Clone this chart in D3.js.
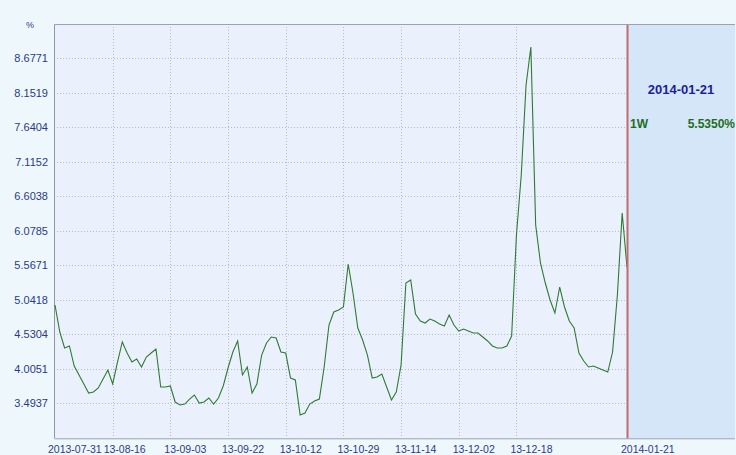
<!DOCTYPE html>
<html><head><meta charset="utf-8">
<script src="https://cdn.jsdelivr.net/npm/d3@7"></script>
<style>
html,body{margin:0;padding:0;background:#eef8fc;}
svg{display:block;}
</style></head>
<body>
<svg id="chart" width="736" height="455"></svg>
<script>
// ---- data ----
const xTickIndex = [0, 12, 24, 36, 48, 60, 72, 84, 96, 119];
const xTickLabels = ["2013-07-31","13-08-16","13-09-03","13-09-22","13-10-12","13-10-29","13-11-14","13-12-02","13-12-18","2014-01-21"];
const yTickValues = [3.4937, 4.0051, 4.5304, 5.0418, 5.5671, 6.0785, 6.6038, 7.1152, 7.6404, 8.1519, 8.6771];
const rates = [
 4.971,4.565,4.325,4.355,4.054,3.919,3.784,3.648,3.663,3.724,
 3.859,3.994,3.784,4.114,4.415,4.249,4.114,4.159,4.039,4.189,
 4.249,4.310,3.739,3.739,3.754,3.513,3.468,3.483,3.558,3.618,
 3.498,3.513,3.573,3.483,3.573,3.754,4.024,4.264,4.430,3.919,
 4.039,3.648,3.784,4.219,4.400,4.490,4.475,4.264,4.249,3.874,
 3.844,3.318,3.348,3.483,3.528,3.558,4.039,4.670,4.865,4.895,
 4.941,5.587,5.151,4.625,4.445,4.219,3.874,3.889,3.934,3.739,
 3.543,3.663,4.069,5.301,5.346,4.835,4.730,4.700,4.760,4.730,
 4.685,4.655,4.820,4.670,4.580,4.610,4.580,4.550,4.550,4.490,
 4.430,4.355,4.325,4.325,4.355,4.505,6.022,6.924,8.276,8.847,
 6.173,5.602,5.301,5.046,4.850,5.241,4.941,4.730,4.625,4.249,
 4.129,4.039,4.054,4.024,3.994,3.964,4.264,5.121,6.353,5.535
];
const lastDate = "2014-01-21";
const lastTerm = "1W";
const lastValue = "5.5350%";
const unitLabel = "%";

// ---- layout ----
const svg = d3.select("#chart");
const L = 55, T = 25, B = 438.3, R = 735, dataR = 627;

const x = d3.scaleLinear().domain([0, rates.length - 1]).range([L, dataR]);
const y = d3.scaleLinear().domain([2.968, 9.1773]).range([B, T]);

svg.append("rect").attr("x", L).attr("y", T).attr("width", dataR - L).attr("height", B - T).attr("fill", "#ebf1fc");
svg.append("rect").attr("x", dataR).attr("y", T).attr("width", R - dataR).attr("height", B - T).attr("fill", "#d5e6f9");

svg.append("g").selectAll("line").data(yTickValues).join("line")
  .attr("x1", L + 2).attr("x2", dataR - 2)
  .attr("y1", d => Math.round(y(d)) + 0.5).attr("y2", d => Math.round(y(d)) + 0.5)
  .attr("stroke", "#b4bcc6").attr("stroke-width", 1).attr("stroke-dasharray", "1,2");

svg.append("g").selectAll("line").data(xTickIndex.filter(d => d > 0 && d < rates.length - 1)).join("line")
  .attr("x1", d => Math.round(x(d)) + 0.5).attr("x2", d => Math.round(x(d)) + 0.5)
  .attr("y1", T + 2).attr("y2", B)
  .attr("stroke", "#b4bcc6").attr("stroke-width", 1).attr("stroke-dasharray", "1,2");

svg.append("line").attr("x1", L - 0.5).attr("x2", R).attr("y1", T - 0.5).attr("y2", T - 0.5).attr("stroke", "#9aa2aa");
svg.append("line").attr("x1", L - 0.5).attr("x2", L - 0.5).attr("y1", T - 0.5).attr("y2", B).attr("stroke", "#8e969e");
svg.append("line").attr("x1", L - 0.5).attr("x2", R).attr("y1", B + 0.5).attr("y2", B + 0.5).attr("stroke", "#9aa2aa");

svg.append("g").selectAll("text").data(yTickValues).join("text")
  .attr("x", 48).attr("y", d => y(d) + 4)
  .attr("text-anchor", "end")
  .attr("font-family", "Liberation Sans, Arial, sans-serif").attr("font-size", 11)
  .attr("fill", "#2a3a8a")
  .text(d => d.toFixed(4));
svg.append("text").attr("x", 30).attr("y", 28).attr("text-anchor", "middle")
  .attr("font-family", "Liberation Sans, Arial, sans-serif").attr("font-size", 9)
  .attr("fill", "#2a3a8a").text(unitLabel);

svg.append("g").selectAll("text").data(xTickIndex).join("text")
  .attr("x", (d, i) => i === 0 ? x(d) - 7 : (i === 1 ? x(d) - 9 : x(d) - 6)).attr("y", 453)
  .attr("text-anchor", "start")
  .attr("font-family", "Liberation Sans, Arial, sans-serif").attr("font-size", 10.5)
  .attr("fill", "#2a3a8a")
  .text((d, i) => xTickLabels[i]);

svg.append("path").datum(rates)
  .attr("d", d3.line().x((d, i) => x(i)).y(d => y(d)))
  .attr("fill", "none").attr("stroke", "#2f7a33").attr("stroke-width", 1.1);

svg.append("line").attr("x1", dataR + 0.5).attr("x2", dataR + 0.5).attr("y1", T).attr("y2", B)
  .attr("stroke", "#c46a6a").attr("stroke-width", 2);

svg.append("text").attr("x", 681).attr("y", 94).attr("text-anchor", "middle")
  .attr("font-family", "Liberation Sans, Arial, sans-serif").attr("font-size", 13).attr("font-weight", "bold")
  .attr("fill", "#1a1f9a").text(lastDate);
svg.append("text").attr("x", 630).attr("y", 128).attr("text-anchor", "start")
  .attr("font-family", "Liberation Sans, Arial, sans-serif").attr("font-size", 12).attr("font-weight", "bold")
  .attr("fill", "#1e6e1e").text(lastTerm);
svg.append("text").attr("x", 735).attr("y", 128).attr("text-anchor", "end")
  .attr("font-family", "Liberation Sans, Arial, sans-serif").attr("font-size", 12).attr("font-weight", "bold")
  .attr("fill", "#1e6e1e").text(lastValue);
</script>
</body></html>
